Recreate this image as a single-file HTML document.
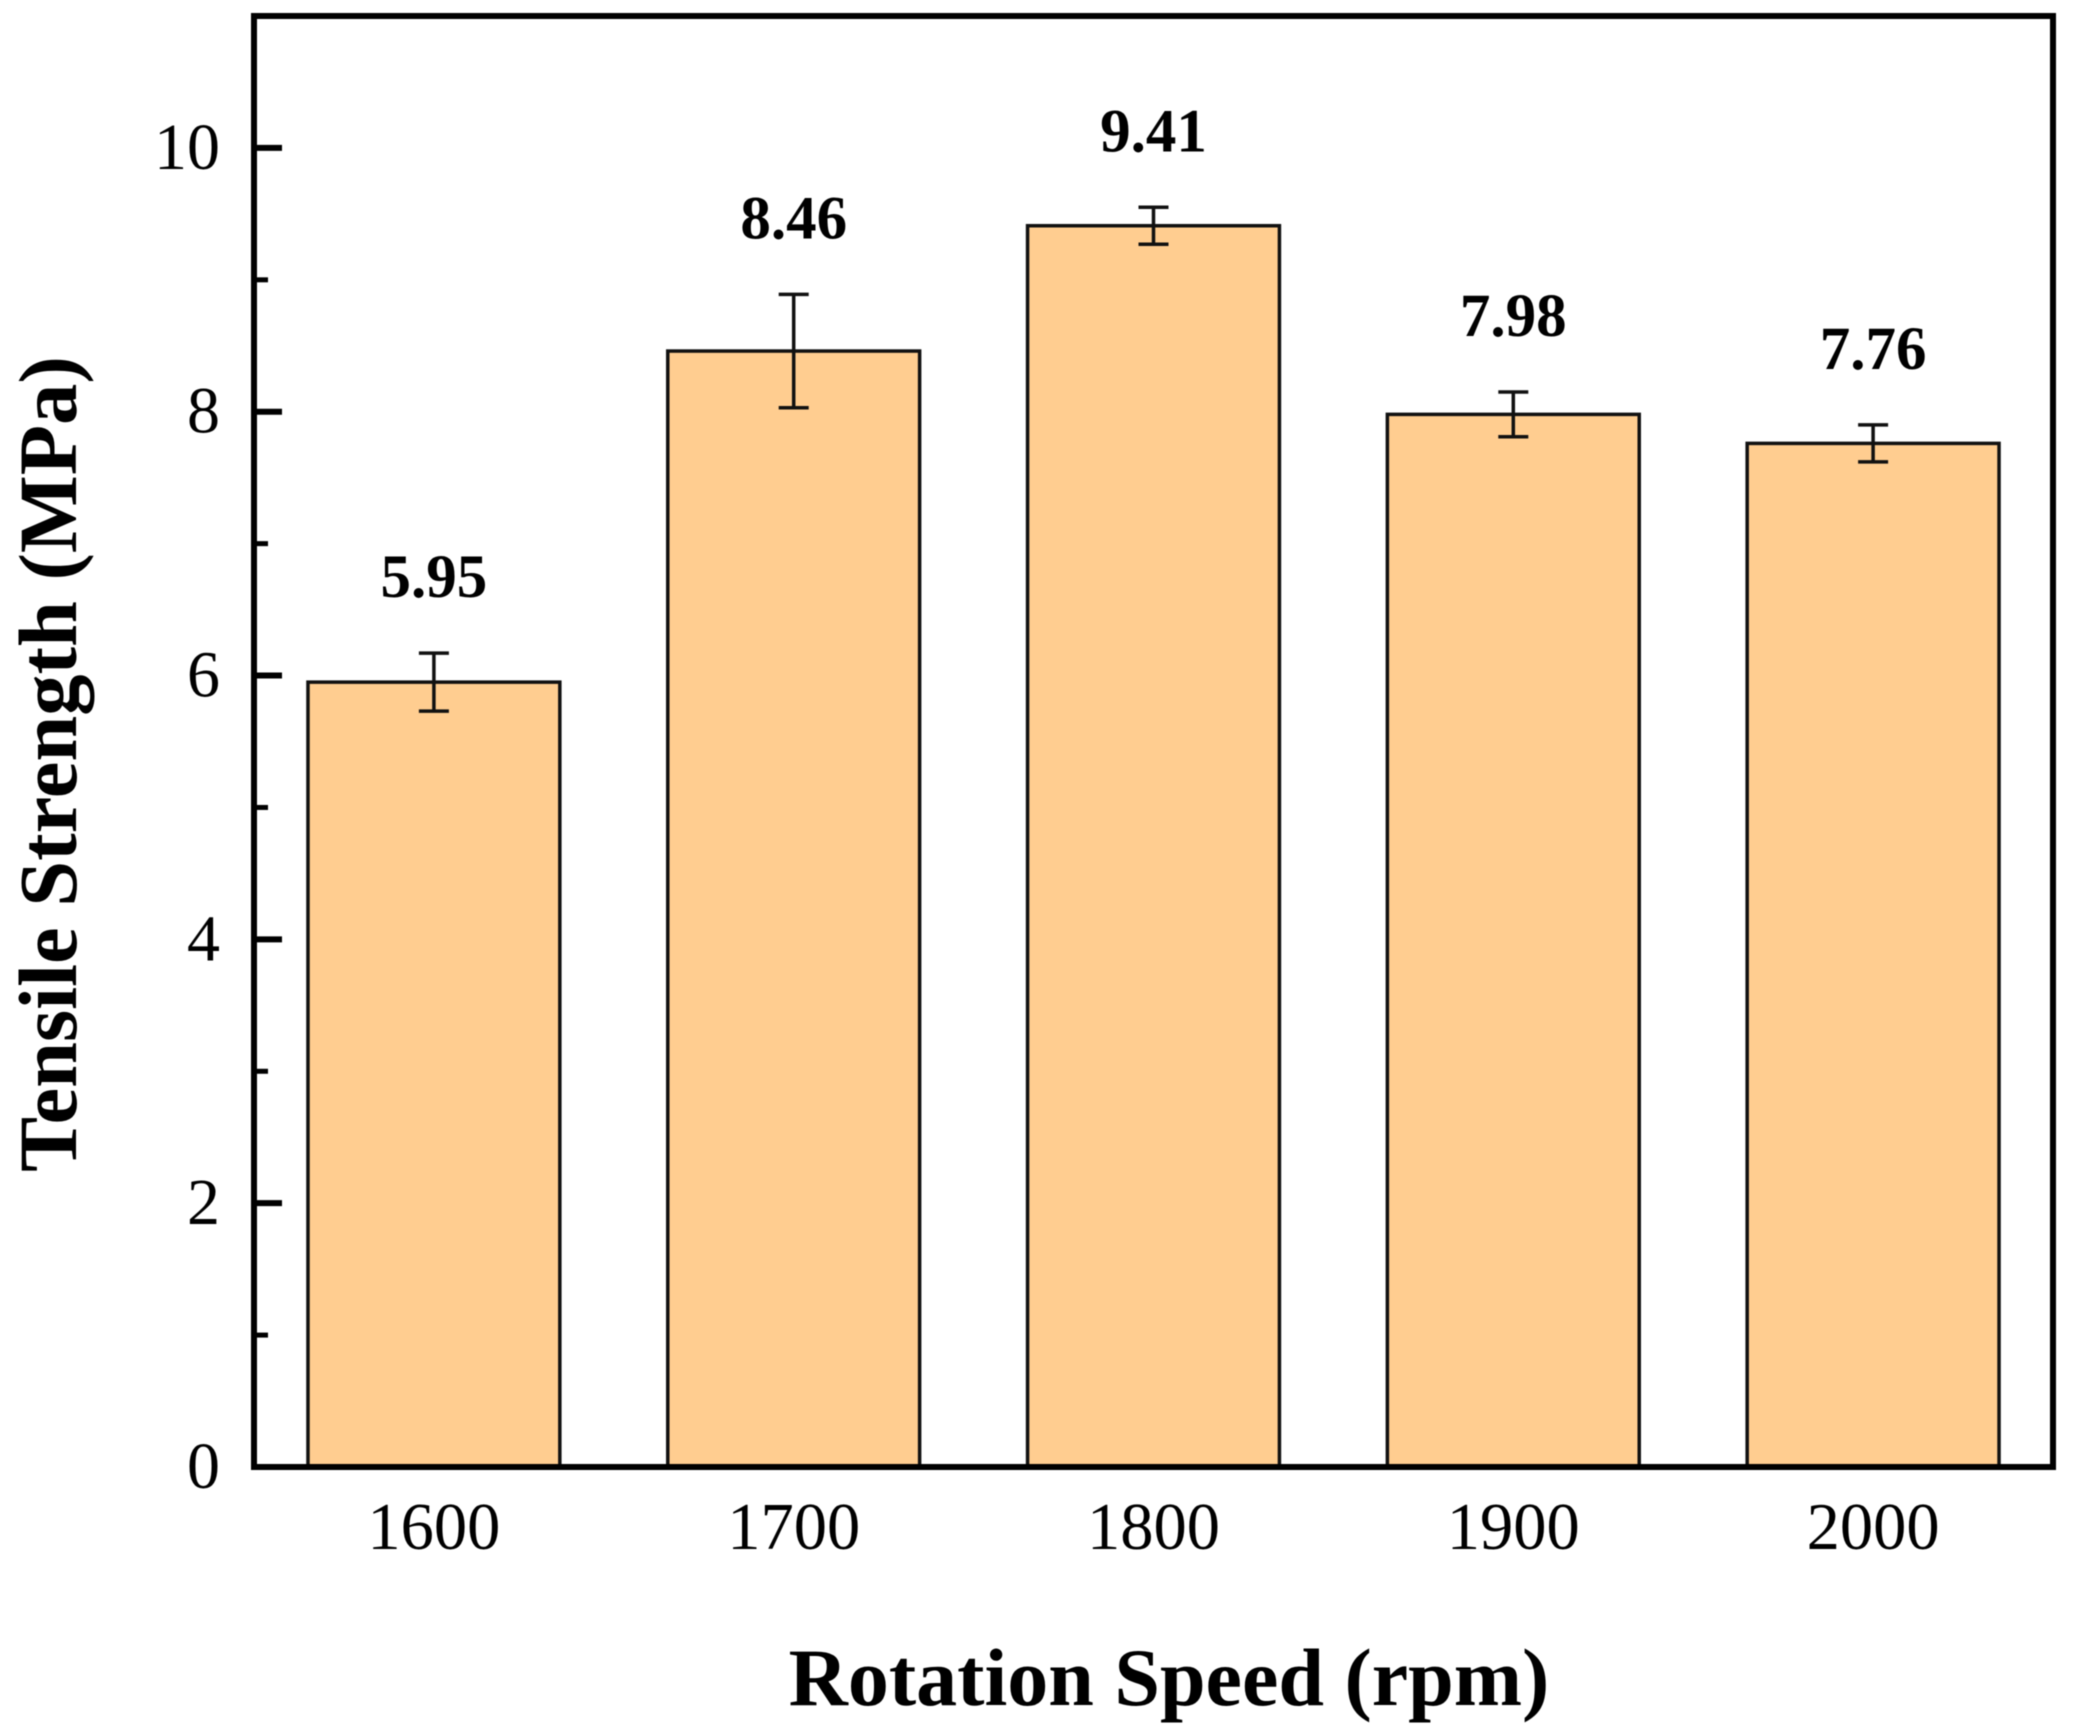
<!DOCTYPE html>
<html lang="en">
<head>
<meta charset="utf-8">
<title>Tensile Strength vs Rotation Speed</title>
<style>
html,body{margin:0;padding:0;background:#fff;width:2074px;height:1731px;overflow:hidden}
svg{display:block;font-family:"Liberation Serif",serif;filter:blur(.5px)}
</style>
</head>
<body>
<svg id="chart" width="2074" height="1731" viewBox="0 0 2074 1731" xmlns="http://www.w3.org/2000/svg">
<rect x="0" y="0" width="2074" height="1731" fill="#fff"/>
<g id="bars"></g>
<g id="errors"></g>
<g id="values"></g>
<g id="yaxis"></g>
<g id="xaxis"></g>
<rect x="254" y="16" width="1799" height="1451" fill="none" stroke="#000" stroke-width="6"/>
<text transform="translate(76,764) rotate(-90)" text-anchor="middle" font-size="82.5" font-weight="bold" fill="#000">Tensile Strength (MPa)</text>
<text x="1169" y="1705" text-anchor="middle" font-size="82" font-weight="bold" fill="#000">Rotation Speed (rpm)</text>
</svg>
<script>
const categories = ['1600', '1700', '1800', '1900', '2000'];
const strengths = [5.95, 8.46, 9.41, 7.98, 7.76];
const errorMargins = [0.22, 0.43, 0.14, 0.17, 0.14];
const valueLabels = ['5.95', '8.46', '9.41', '7.98', '7.76'];
const yMajorTicks = [0, 2, 4, 6, 8, 10];
const yMinorTicks = [1, 3, 5, 7, 9];

const NS = 'http://www.w3.org/2000/svg';
const plot = {left: 254, right: 2053, top: 16, bottom: 1467};
const yMax = 11;
const barWidthUnits = 0.7;
const yScale = v => plot.bottom - v / yMax * (plot.bottom - plot.top);
const bandWidth = (plot.right - plot.left) / categories.length;
const xScale = i => plot.left + bandWidth * (i + 0.5);
function make(tag, attrs, parent, text) {
  const el = document.createElementNS(NS, tag);
  for (const k in attrs) el.setAttribute(k, attrs[k]);
  if (text !== undefined) el.textContent = text;
  parent.appendChild(el);
  return el;
}
const barsG = document.getElementById('bars');
const errG = document.getElementById('errors');
const valG = document.getElementById('values');
const yG = document.getElementById('yaxis');
const xG = document.getElementById('xaxis');
const capHalf = 15;

categories.forEach((cat, i) => {
  const cx = xScale(i);
  const w = bandWidth * barWidthUnits;
  const top = yScale(strengths[i]);
  const bar = make('rect', {x: cx - w / 2, y: top, width: w, height: plot.bottom - top, fill: '#FFCD90', stroke: '#111', 'stroke-width': 3.5}, barsG);
  
  

  const hi = yScale(strengths[i] + errorMargins[i]);
  const lo = yScale(strengths[i] - errorMargins[i]);
  const err = make('path', {d: `M${cx - capHalf} ${hi}H${cx + capHalf}M${cx} ${hi}V${lo}M${cx - capHalf} ${lo}H${cx + capHalf}`, fill: 'none', stroke: '#111', 'stroke-width': 3.5}, errG);
  
  

  const label = make('text', {x: cx, y: hi - 56, 'text-anchor': 'middle', 'font-size': 61, 'font-weight': 'bold', fill: '#000'}, valG, valueLabels[i]);
  
  

  const tick = make('text', {x: cx, y: 1549, 'text-anchor': 'middle', 'font-size': 66.5, fill: '#000'}, xG, cat);
  
  
});

yMajorTicks.forEach(v => {
  const y = yScale(v);
  if (v > 0) {
    const t = make('line', {x1: plot.left, x2: plot.left + 28, y1: y, y2: y, stroke: '#000', 'stroke-width': 6}, yG);
    
    
  }
  const label = make('text', {x: 220, y: y + 21, 'text-anchor': 'end', 'font-size': 66, fill: '#000'}, yG, String(v));
  
  
});
yMinorTicks.forEach(v => {
  const y = yScale(v);
  const t = make('line', {x1: plot.left, x2: plot.left + 14, y1: y, y2: y, stroke: '#000', 'stroke-width': 5}, yG);
  
  
});
</script>
</body>
</html>
